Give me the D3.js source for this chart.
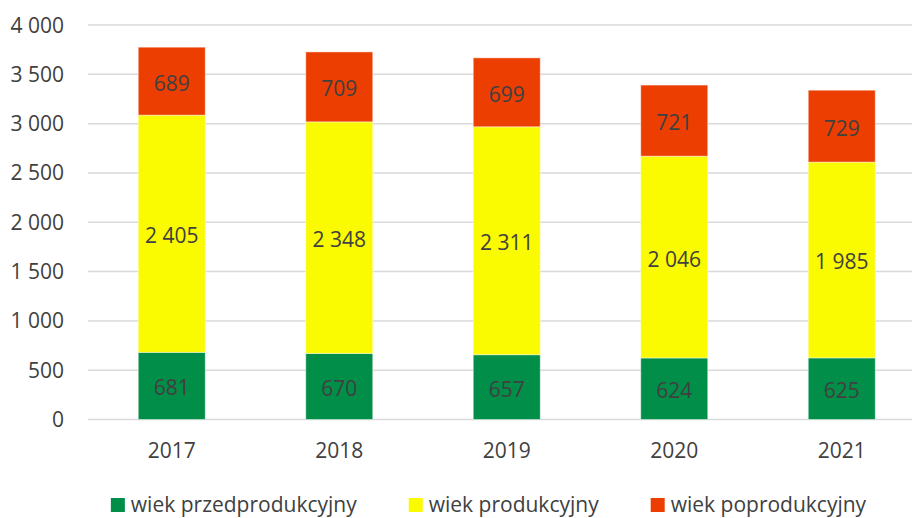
<!DOCTYPE html>
<html>
<head>
<meta charset="utf-8">
<script src="https://cdn.jsdelivr.net/npm/d3@7"></script>
<style>
  body { margin: 0; background: #fff; }
  svg text { font-family: "Open Sans", "Noto Sans", sans-serif; fill: #404040; }
</style>
</head>
<body>
<svg id="chart" width="912" height="518"></svg>
<script>
const years = ['2017', '2018', '2019', '2020', '2021'];
const przed = [681, 670, 657, 624, 625];
const prod = [2405, 2348, 2311, 2046, 1985];
const poprod = [689, 709, 699, 721, 729];
const seriesNames = ['wiek przedprodukcyjny', 'wiek produkcyjny', 'wiek poprodukcyjny'];
const seriesColors = ['#008E48', '#FAFA00', '#EB3E00'];
const yTicks = [0, 500, 1000, 1500, 2000, 2500, 3000, 3500, 4000];

const svg = d3.select('#chart');
const fmt = v => d3.format(',')(v).replace(/,/g, ' ');
const FS = 21;

const x = d3.scaleBand().domain(years).range([88, 925.5]).padding(0);
const y = d3.scaleLinear().domain([0, 4000]).range([419.5, 25]);
const barW = x.bandwidth() * 0.4;

// rows for the stack
const rows = years.map((yr, i) => ({ year: yr, s0: przed[i], s1: prod[i], s2: poprod[i] }));
const stack = d3.stack().keys(['s0', 's1', 's2'])(rows);

// gridlines
svg.append('g').selectAll('line')
  .data(yTicks)
  .join('line')
  .attr('x1', 88).attr('x2', 912)
  .attr('y1', d => y(d)).attr('y2', d => y(d))
  .attr('stroke', '#D9D9D9').attr('stroke-width', 1.5);

// y labels
svg.append('g').selectAll('text')
  .data(yTicks)
  .join('text')
  .attr('x', 64).attr('y', d => y(d) + 7.5)
  .attr('text-anchor', 'end')
  .attr('font-size', FS)
  .text(fmt);

// x labels
svg.append('g').selectAll('text')
  .data(years)
  .join('text')
  .attr('x', d => x(d) + x.bandwidth() / 2)
  .attr('y', 458)
  .attr('text-anchor', 'middle')
  .attr('font-size', FS)
  .text(d => d);

// bars
const layers = svg.append('g').selectAll('g')
  .data(stack)
  .join('g')
  .attr('fill', (d, i) => seriesColors[i]);

layers.selectAll('rect')
  .data(d => d)
  .join('rect')
  .attr('x', d => x(d.data.year) + (x.bandwidth() - barW) / 2)
  .attr('y', d => y(d[1]))
  .attr('width', barW)
  .attr('height', d => y(d[0]) - y(d[1]))
  .attr('stroke', 'rgba(255,255,255,0.45)')
  .attr('stroke-width', 1);

// value labels
layers.selectAll('text')
  .data(d => d)
  .join('text')
  .attr('x', d => x(d.data.year) + x.bandwidth() / 2)
  .attr('y', d => (y(d[0]) + y(d[1])) / 2 + 9.5)
  .attr('text-anchor', 'middle')
  .attr('font-size', FS)
  .text(d => fmt(d[1] - d[0]));

// legend
const legend = svg.append('g');
const items = legend.selectAll('g')
  .data(seriesNames)
  .join('g');
items.append('rect')
  .attr('width', 14).attr('height', 14)
  .attr('y', 498)
  .attr('fill', (d, i) => seriesColors[i]);
items.append('text')
  .attr('x', 20).attr('y', 512)
  .attr('font-size', FS)
  .text(d => d);

let offset = 0;
items.each(function () {
  d3.select(this).attr('transform', `translate(${offset},0)`);
  offset += 20 + this.querySelector('text').getComputedTextLength() + 52;
});
const totalW = offset - 52;
legend.attr('transform', `translate(${488.5 - totalW / 2},0)`);
</script>
</body>
</html>
